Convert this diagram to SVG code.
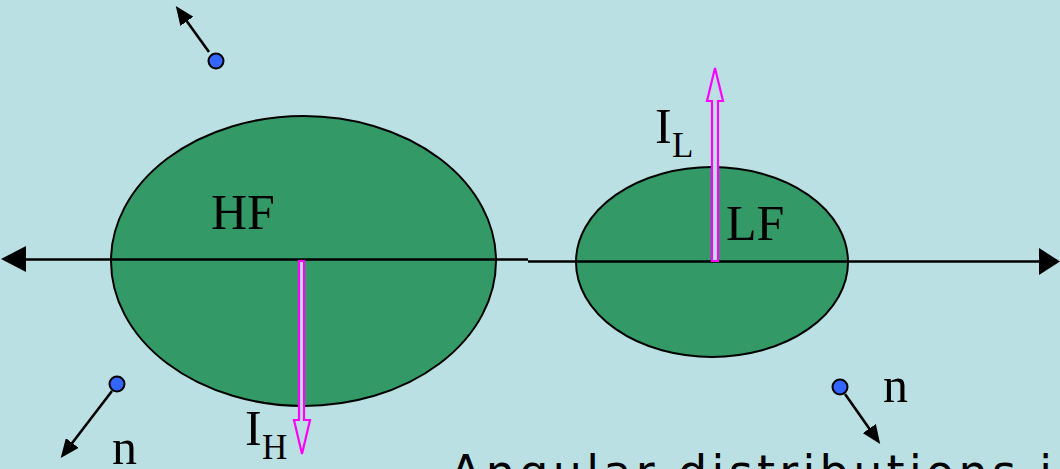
<svg xmlns="http://www.w3.org/2000/svg" width="1060" height="469" viewBox="0 0 1060 469">
<style>
.bg{fill:#BAE0E3}
.lobe{fill:#339966;stroke:#000;stroke-width:2}
.axis{stroke:#000;stroke-width:2.6;fill:none}
.head{fill:#000}
.cur{fill:#BAE0E3;stroke:#FF00FF;stroke-width:2.2;stroke-linejoin:miter}
.ser{font-family:"Liberation Serif","Times New Roman",serif;fill:#000}
.big{font-size:50px}
.sub{font-size:35px}
.dot{fill:#3366FF;stroke:#000;stroke-width:2}
.vec{stroke:#000;stroke-width:2.6;fill:none}
.cap{font-family:"DejaVu Sans",Verdana,sans-serif;font-size:46px;fill:#000}
</style>
<defs>
<marker id="ah" viewBox="0 0 10 10" refX="8" refY="5" markerUnits="userSpaceOnUse" markerWidth="19" markerHeight="16" orient="auto" preserveAspectRatio="none">
<path d="M0,0 L10,5 L0,10 z" fill="#000"/>
</marker>
</defs>
<rect class="bg" x="0" y="0" width="1060" height="469"/>
<g id="HF">
<ellipse class="lobe" cx="303.5" cy="261" rx="192.5" ry="145"/>
<text class="ser big" x="211" y="229">HF</text>
</g>
<g id="LF">
<ellipse class="lobe" cx="712" cy="262" rx="136" ry="95"/>
<text class="ser big" x="726" y="240">LF</text>
</g>
<g id="connectors">
<path class="axis" d="M528,259.5 L24,259.5"/>
<polygon class="head" points="1,259 26,246 26,272"/>
<path class="axis" d="M528,261.5 L1040,261.5"/>
<polygon class="head" points="1060,261.5 1039,248 1039,275"/>
<polygon class="cur" points="712,261 712,101 707,101 715,68 723,101 718,101 718,261"/>
<polygon class="cur" points="299,261 299,420 294,420 302,454 310,420 304,420 304,261"/>
<path class="vec" d="M209,52 L178,9" marker-end="url(#ah)"/>
<path class="vec" d="M112,391 L63,455" marker-end="url(#ah)"/>
<path class="vec" d="M845,394 L878,441" marker-end="url(#ah)"/>
</g>
<g id="IL">
<text class="ser big" x="655" y="143">I</text>
<text class="ser sub" x="672" y="157">L</text>
</g>
<g id="IH">
<text class="ser big" x="245" y="445">I</text>
<text class="ser sub" x="262" y="459">H</text>
</g>
<g id="n1">
<circle class="dot" cx="216" cy="61" r="7.5"/>
</g>
<g id="n2">
<circle class="dot" cx="117" cy="384" r="7.5"/>
<text class="ser big" x="112" y="464">n</text>
</g>
<g id="n3">
<circle class="dot" cx="840" cy="387" r="7.5"/>
<text class="ser big" x="883" y="402">n</text>
</g>
<text class="cap" x="450" y="488" textLength="602" lengthAdjust="spacing">Angular distributions i</text>
</svg>
